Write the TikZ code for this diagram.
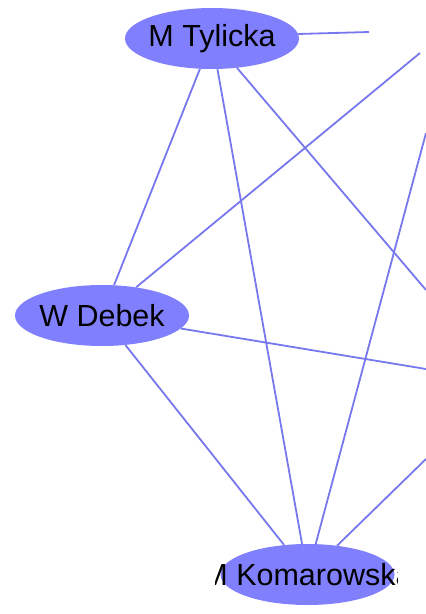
\documentclass[tikz,border=0pt]{standalone}
\usepackage{fontspec}
\setmainfont{Liberation Sans}
\usetikzlibrary{shapes.geometric}
\definecolor{nodefill}{RGB}{128,128,255}
\definecolor{edgecol}{RGB}{119,119,238}
\tikzset{
  person/.style={ellipse, fill=nodefill, draw=none, minimum width=174pt, minimum height=61pt, inner sep=0pt},
  nametext/.style={font=\fontsize{30.5}{30.5}\selectfont, inner sep=0pt},
  link/.style={draw=edgecol, line width=1.8pt}
}
\begin{document}
\begin{tikzpicture}[x=1pt,y=-1pt]
\useasboundingbox (0,0) rectangle (426,614);
\clip (0,0) rectangle (426,614);
% nodes
\node[person] (tyl) at (212,38.5) {};
\node[nametext] (tyltxt) at (tyl.center) {M Tylicka};
\node[person] (deb) at (102,315.5) {};
\node[nametext] (debtxt) at (deb.center) {W Debek};
\node[person] (kom) at (307.5,574.5) {};
\begin{scope}
  \clip (215,540) rectangle (397,610);
  \node[nametext] (komtxt) at (kom.center) {M Komarowska};
\end{scope}
% free ends
\coordinate (r1) at (369,32);
\coordinate (r2) at (420,53);
\coordinate (r3) at (426,290);
\coordinate (r4) at (426,133);
\coordinate (r5) at (426,369);
\coordinate (r6) at (426,459);
% edges
\draw[link] (tyl.3) -- (r1);
\draw[link] (deb) -- (r2);
\draw[link] (tyl) -- (r3);
\draw[link] (kom) -- (r4);
\draw[link] (deb) -- (r5);
\draw[link] (kom) -- (r6);
\draw[link] (tyl) -- (deb);
\draw[link] (tyl) -- (kom);
\draw[link] (deb) -- (kom);
\end{tikzpicture}
\end{document}
